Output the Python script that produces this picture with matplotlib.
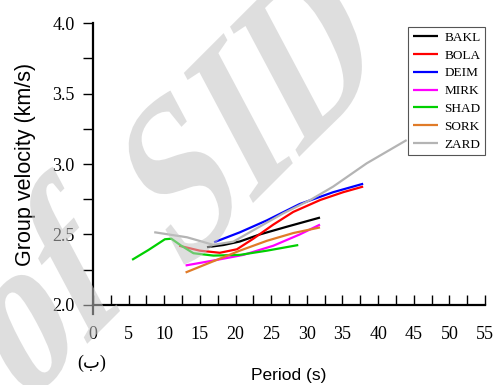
import numpy as np
from matplotlib import pyplot as plt
from matplotlib.textpath import TextPath
from matplotlib.patches import PathPatch
from matplotlib.font_manager import FontProperties
from matplotlib.transforms import Affine2D

# group velocity dispersion curves per station
stations = ["BAKL", "BOLA", "DEIM", "MIRK", "SHAD", "SORK", "ZARD"]
colors = ["black", "#ff0000", "#0000ff", "#ff00ff", "#00d000", "#e07b28", "#b4b4b4"]

bakl_t = [16.0, 18.3, 20.6, 23.4, 27.2, 31.85]
bakl_v = [2.41, 2.425, 2.45, 2.50, 2.555, 2.62]

bola_t = [12.1, 15.0, 17.8, 20.2, 22.5, 25.3, 28.1, 31.9, 35.1, 37.9]
bola_v = [2.42, 2.385, 2.37, 2.395, 2.47, 2.57, 2.66, 2.745, 2.80, 2.84]

deim_t = [17.0, 20.6, 24.4, 29.0, 33.7, 37.9]
deim_v = [2.445, 2.515, 2.60, 2.716, 2.80, 2.86]

mirk_t = [13.0, 16.9, 21.1, 25.3, 29.0, 31.85]
mirk_v = [2.28, 2.315, 2.355, 2.42, 2.50, 2.57]

shad_t = [5.5, 7.8, 10.1, 11.0, 12.4, 14.1, 16.9, 20.6, 24.4, 28.8]
shad_v = [2.32, 2.39, 2.466, 2.47, 2.42, 2.367, 2.35, 2.355, 2.385, 2.425]

sork_t = [13.0, 16.9, 20.6, 24.4, 28.1, 31.85]
sork_v = [2.23, 2.31, 2.385, 2.455, 2.51, 2.55]

zard_t = [8.6, 13.2, 16.9, 19.7, 22.5, 26.7, 30.5, 33.7, 38.4, 44.0]
zard_v = [2.516, 2.48, 2.426, 2.449, 2.53, 2.65, 2.745, 2.84, 3.005, 3.17]

series = [(bakl_t, bakl_v), (bola_t, bola_v), (deim_t, deim_v), (mirk_t, mirk_v),
          (shad_t, shad_v), (sork_t, sork_v), (zard_t, zard_v)]

fig = plt.figure(figsize=(4.94, 3.85), dpi=100, facecolor="white")
ax = fig.add_axes([0.188, 0.208, 0.794, 0.732])

for name, c, (t, v) in zip(stations, colors, series):
    ax.plot(t, v, color=c, lw=1.6, label=name, zorder=3, solid_capstyle="butt")

ax.set_xlim(0, 55)
ax.set_ylim(2.0, 4.0)
ax.xaxis.set_major_locator(plt.MultipleLocator(5))
ax.xaxis.set_minor_locator(plt.MultipleLocator(2.5))
ax.yaxis.set_major_locator(plt.MultipleLocator(0.5))
ax.yaxis.set_minor_locator(plt.MultipleLocator(0.25))
ax.yaxis.set_major_formatter(plt.FormatStrFormatter("%.1f"))

for s in ["top", "right"]:
    ax.spines[s].set_visible(False)
for s in ["left", "bottom"]:
    ax.spines[s].set_linewidth(1.6)
ax.spines["left"].set_bounds(1.935, 4.0)

ax.tick_params(axis="x", which="both", direction="in", length=7, width=1.0)
ax.tick_params(axis="y", which="both", direction="out", length=7, width=1.0)
ax.tick_params(axis="x", which="major", labelsize=13, pad=15)
ax.tick_params(axis="y", which="major", labelsize=13, pad=6)
for lab in ax.get_xticklabels() + ax.get_yticklabels():
    lab.set_family("Liberation Serif")

ax.set_xlabel("Period (s)", family="Liberation Sans", fontsize=12.5, labelpad=18)
ax.set_ylabel("Group velocity (km/s)", family="Liberation Sans", fontsize=15.5, labelpad=12)

fig.text(0.186, 0.057, "(ب)", family=["Liberation Serif", "DejaVu Sans"],
         fontsize=13, ha="center", va="center")

leg = ax.legend(loc="upper right", bbox_to_anchor=(1.01, 1.0), fancybox=False,
                prop={"family": "Liberation Serif", "size": 9.5}, handlelength=1.9,
                labelspacing=0.42, borderpad=0.35, handletextpad=0.5,
                borderaxespad=0.3, framealpha=1)
leg.get_frame().set_edgecolor("#555555")
leg.get_frame().set_linewidth(0.8)
leg.set_zorder(5)

# sheared "of SID" stamp laid over the plot (pixel coordinates)
stamp_font = FontProperties(family="Liberation Serif", weight="bold")
a_base, a_up = np.deg2rad(45), np.deg2rad(118)
lin = np.array([[175 * np.cos(a_base), 225 * np.cos(a_up)],
                [175 * np.sin(a_base), 225 * np.sin(a_up)]])
for word, (ox, oy) in [("of", (22, -24)), ("SID", (180, 109))]:
    m = np.eye(3)
    m[:2, :2] = lin
    m[:2, 2] = (ox, oy)
    fig.patches.append(PathPatch(TextPath((0, 0), word, size=1, prop=stamp_font),
                                 transform=Affine2D(m), facecolor="#c4c4c4",
                                 edgecolor="none", alpha=0.55, zorder=10))

plt.savefig("out.png", dpi=100)
